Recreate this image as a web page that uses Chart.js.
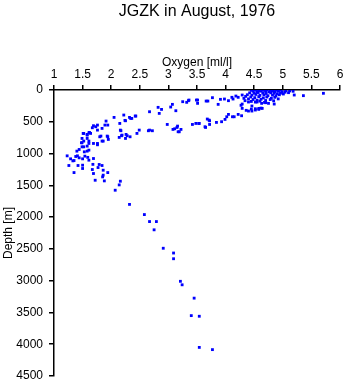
<!DOCTYPE html>
<html>
  <head>
    <meta charset="utf-8">
    <style type="text/css">
      body { margin: 0; background: #fff; }
      .chart-container { width: 345px; height: 384px; }
    </style>
  </head>
  <body>
    <script src="https://cdn.jsdelivr.net/npm/chart.js@4.4.0/dist/chart.umd.min.js"></script>

    <div class="chart-container">
      <canvas id="myChart"></canvas>
    </div>

    <script>
      /* datas */
      const chartTitle = 'JGZK in August, 1976';
      const xTitle = 'Oxygen [ml/l]';
      const yTitle = 'Depth [m]';

      // oxygen [ml/l] and depth [m], same order
      const oxygen = [
        // deep water
        2.32, 2.58, 2.67, 2.79, 2.75, 2.91, 3.09, 3.09, 3.21, 3.24, 3.45, 3.40, 3.54, 3.54, 3.77,
        // oxygen minimum
        2.07, 2.14, 2.16, 1.88, 1.72, 1.85, 1.86, 1.94, 1.69, 1.67, 1.86, 1.77, 1.84, 1.79, 1.68,
        1.69, 1.61, 1.59, 1.50, 1.50, 1.42, 1.35, 1.26, 1.23, 1.29, 1.33, 1.35, 1.38, 1.41, 1.44,
        1.50, 1.54, 1.40, 1.44, 1.53, 1.58, 1.61, 1.49, 1.52, 1.58, 1.48, 1.52, 1.61, 1.69, 1.76,
        1.76, 1.49, 1.58, 1.61, 1.51, 1.58, 1.62, 1.64, 1.67, 1.73, 1.76, 1.80, 1.84, 1.84, 1.89,
        1.91, 1.94, 1.94, 1.95, 2.05, 2.15, 2.17, 2.14, 2.18, 2.22, 2.25, 2.28, 2.25, 2.32, 2.34,
        2.43, 2.33, 2.45, 2.49, 2.67, 2.65, 2.67, 2.72, 2.82, 2.84, 2.88, 2.98, 3.07, 3.04, 3.13,
        3.08, 3.11, 3.15, 3.17, 3.22, 3.25, 3.32, 3.35,
        2.24, 1.76, 1.69, 2.16, 2.19, 2.26, 1.93, 1.82, 1.86, 1.61, 1.58, 1.52, 1.49,
        2.36, 2.42, 3.16, 3.19, 3.49, 3.53, 3.64, 3.71,
        // thermocline branches
        3.36, 3.51, 3.51, 3.66, 3.69, 3.77, 3.87, 3.91, 3.98, 4.05, 4.11, 4.13, 4.18, 4.22, 4.29,
        4.32, 4.29, 4.29, 4.34, 4.40, 4.46, 4.40, 4.46, 4.52, 4.58, 4.64, 4.55, 4.63, 4.75, 4.85,
        5.01, 5.10, 5.20, 5.36, 5.71,
        3.68, 3.72, 3.72, 3.65, 3.54, 3.48, 3.42, 3.84, 3.93, 3.99, 4.02, 4.05, 4.12, 4.15, 4.22, 4.28,
        // surface layer
        4.45, 4.52, 4.58, 4.63, 4.68, 4.72, 4.78, 4.83, 4.88, 4.93, 4.97, 5.05, 5.12, 5.18,
        4.48, 4.55, 4.62, 4.70, 4.76, 4.81, 4.86, 4.92, 4.99, 5.04,
        4.42, 4.50, 4.57, 4.65, 4.71, 4.79, 4.85, 4.90, 4.96,
        4.38, 4.46, 4.53, 4.60, 4.67, 4.74, 4.82, 4.88, 4.94,
        4.35, 4.44, 4.51, 4.58, 4.66, 4.72, 4.80, 4.86,
        4.40, 4.48, 4.55, 4.62, 4.70, 4.78,
        4.45, 4.52, 4.60, 4.68,
        4.27, 4.36, 4.45, 4.52, 4.58, 4.62, 4.70, 4.84, 4.92
      ];
      const depth = [
        1800, 1960, 2070, 2070, 2200, 2490, 2565, 2655, 3010, 3065, 3275, 3550, 3560, 4050, 4085,
        1577, 1493, 1435, 1430, 1420, 1367, 1340, 1299, 1314, 1251, 1262, 1220, 1188, 1172, 1170,
        1078, 1104, 1060, 1235, 1183, 1188, 1299, 1188, 1036, 1083, 1115, 1110, 1046, 1036, 1067,
        1083, 1041, 962, 936, 973, 962, 946, 894, 894, 883, 830, 804, 841, 841, 841,
        862, 762, 762, 804, 683, 699, 667, 683, 594, 578, 631, 736, 804, 604, 552,
        489, 552, 736, 778, 431, 526, 641, 746, 720, 394, 484, 720, 762, 431, 447,
        410, 736, 683, 631, 342, 641, 631, 641, 273, 368, 305, 542, 226, 268, 326,
        620, 610, 589, 657, 620, 184, 194, 168,
        478, 552, 562, 631, 710, 699, 725, 725, 804, 673, 710, 683, 830,
        447, 410, 568, 657, 158, 526, 578, 473,
        158, 158, 210, 174, 174, 121, 226, 147, 142, 168, 115, 142, 95, 115, 79,
        131, 221, 289, 168, 189, 252, 331, 331, 315, 305, 289, 189, 210, 210, 221,
        63, 42, 79, 89, 52,
        457, 484, 542, 589, 526, 526, 542, 510, 499, 463, 421, 384, 421, 421, 384, 405,
        5, 2, 8, 3, 6, 2, 5, 9, 4, 7, 3, 10, 15, 20,
        20, 25, 18, 22, 30, 18, 26, 20, 30, 35,
        45, 50, 40, 48, 55, 45, 52, 60, 50,
        75, 80, 70, 85, 75, 90, 80, 95, 75,
        100, 110, 120, 105, 125, 110, 130, 115,
        140, 150, 160, 145, 165, 150,
        180, 190, 175, 195,
        241, 320, 300, 295, 290, 285, 200, 170, 140
      ];

      const points = oxygen.map((o, i) => ({ x: o, y: depth[i] }));
      const FONT = 'Liberation Sans, Arial, Helvetica, sans-serif';

      // title centred over the plot area
      const titlePlugin = {
        id: 'plotTitle',
        afterDraw(chart) {
          const ctx = chart.ctx;
          const a = chart.chartArea;
          ctx.save();
          ctx.font = '16px ' + FONT;
          ctx.fillStyle = '#000';
          ctx.textAlign = 'center';
          ctx.textBaseline = 'middle';
          ctx.fillText(chartTitle, (a.left + a.right) / 2, 12);
          ctx.restore();
        }
      };

      const myChart = new Chart('myChart', {
        type: 'scatter',
        data: {
          datasets: [{
            data: points,
            pointStyle: 'rect',
            pointRadius: 2,
            pointBorderWidth: 0,
            backgroundColor: '#0000ff',
            borderColor: '#0000ff'
          }]
        },
        options: {
          responsive: true,
          maintainAspectRatio: false,
          animation: false,
          layout: { padding: { top: 50, left: 0, right: 5, bottom: 8 } },
          plugins: {
            legend: { display: false },
            tooltip: { enabled: false }
          },
          scales: {
            x: {
              type: 'linear',
              position: 'top',
              min: 1,
              max: 6,
              afterFit: function(scale) {
                scale.height = 40;
                scale.paddingLeft = 0;
                scale.paddingRight = 0;
              },
              ticks: {
                stepSize: 0.5,
                color: '#000',
                padding: 3,
                font: { family: FONT, size: 12 },
                callback: function(value) { return String(value); }
              },
              grid: { drawOnChartArea: false, tickLength: 5, color: '#000', lineWidth: 1.5 },
              border: { color: '#000', width: 1.5 },
              title: {
                display: true,
                text: xTitle,
                color: '#000',
                padding: { top: 5, bottom: 0 },
                font: { family: FONT, size: 12 }
              }
            },
            y: {
              type: 'linear',
              reverse: true,
              min: 0,
              max: 4500,
              afterFit: function(scale) {
                scale.width = 54;
                scale.paddingTop = 0;
                scale.paddingBottom = 0;
              },
              ticks: {
                stepSize: 500,
                color: '#000',
                padding: 6,
                font: { family: FONT, size: 12 },
                callback: function(value) { return String(value); }
              },
              grid: { drawOnChartArea: false, tickLength: 5, color: '#000', lineWidth: 1.5 },
              border: { color: '#000', width: 1.5 },
              title: {
                display: true,
                text: yTitle,
                color: '#000',
                padding: { top: 1, bottom: 0 },
                font: { family: FONT, size: 12 }
              }
            }
          }
        },
        plugins: [titlePlugin]
      });
    </script>
  </body>
</html>
